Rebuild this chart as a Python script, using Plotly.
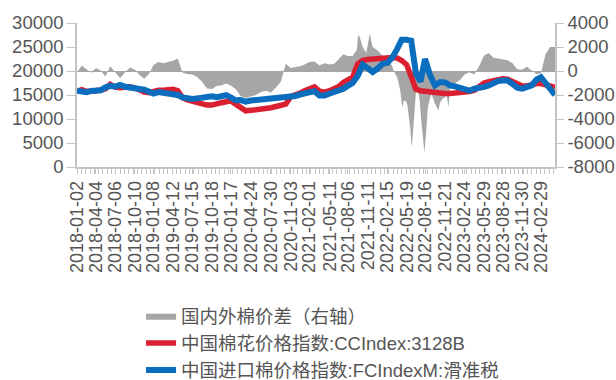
import plotly.graph_objects as go

# Shared observation dates for the two price indices
dates = [
    "2018-01-02", "2018-01-25", "2018-02-17", "2018-03-12",
    "2018-04-04", "2018-04-27", "2018-05-20", "2018-06-12",
    "2018-07-06", "2018-07-30", "2018-08-23", "2018-09-16",
    "2018-10-10", "2018-11-02", "2018-11-24", "2018-12-17",
    "2019-01-08", "2019-01-31", "2019-02-24", "2019-03-19",
    "2019-04-12", "2019-05-05", "2019-05-29", "2019-06-21",
    "2019-07-15", "2019-08-07", "2019-08-31", "2019-09-24",
    "2019-10-18", "2019-11-10", "2019-12-03", "2019-12-26",
    "2020-01-17", "2020-02-10", "2020-03-06", "2020-03-30",
    "2020-04-24", "2020-05-18", "2020-06-12", "2020-07-06",
    "2020-07-30", "2020-08-23", "2020-09-16", "2020-10-10",
    "2020-11-03", "2020-11-25", "2020-12-18", "2021-01-09",
    "2021-02-01", "2021-02-26", "2021-03-22", "2021-04-16",
    "2021-05-11", "2021-06-02", "2021-06-24", "2021-07-16",
    "2021-08-06", "2021-08-30", "2021-09-24", "2021-10-18",
    "2021-11-11", "2021-12-05", "2021-12-29", "2022-01-22",
    "2022-02-15", "2022-03-10", "2022-04-02", "2022-04-25",
    "2022-05-19", "2022-06-10", "2022-07-03", "2022-07-25",
    "2022-08-16", "2022-09-09", "2022-10-03", "2022-10-28",
    "2022-11-21", "2022-12-15", "2023-01-08", "2023-02-01",
    "2023-02-24", "2023-03-19", "2023-04-12", "2023-05-05",
    "2023-05-29", "2023-06-21", "2023-07-14", "2023-08-05",
    "2023-08-28", "2023-09-20", "2023-10-14", "2023-11-06",
    "2023-11-30", "2023-12-23", "2024-01-15", "2024-02-07",
    "2024-02-29", "2024-03-22", "2024-04-14", "2024-05-07",
]

# 中国棉花价格指数 CCIndex:3128B (yuan/ton)
cc_index = [
    15750, 16100, 15750, 15700, 15900, 16050, 16300, 17200,
    16650, 16500, 16600, 16700, 16500, 15950, 15600, 15500,
    15800, 16000, 16000, 16100, 16200, 15900, 14400, 14000,
    13700, 13300, 13100, 12900, 12900, 13300, 13400, 13600,
    13800, 13100, 12400, 11700, 11800, 11900, 12100, 12200,
    12350, 12600, 12800, 13100, 14700, 14900, 15400, 15900,
    16400, 16700, 15800, 15600, 15900, 16200, 16800, 17600,
    18100, 18700, 21500, 22200, 22400, 22500, 22600, 22700,
    22700, 22800, 22700, 22200, 21300, 19000, 16200, 15900,
    15750, 15700, 15400, 15350, 15300, 15300, 15400, 15400,
    15500, 15700, 16000, 16700, 17500, 17800, 18100, 18300,
    18400, 18300, 17900, 17300, 16900, 16900, 17300, 17400,
    17400, 17200, 16900, 16600,
]

# 中国进口棉价格指数 FCIndexM (sliding-scale duty, yuan/ton)
fc_index = [
    15900, 15700, 15600, 15850, 15800, 16000, 16600, 16900,
    16750, 17100, 16700, 16450, 16400, 16250, 16100, 15800,
    15300, 15600, 15450, 15600, 15400, 15000, 14500, 14300,
    14150, 14300, 14500, 14700, 14750, 14550, 14650, 14950,
    14500, 13900, 13950, 13600, 13850, 13950, 13950, 14000,
    14100, 14200, 14300, 14500, 14650, 14800, 15100, 15300,
    15700, 15800, 14900, 14900, 15300, 15600, 15800, 16300,
    16900, 17500, 19000, 21300, 20600, 19800, 20500, 21500,
    21700, 22800, 24500, 26500, 26500, 26300, 19500, 17800,
    22500, 19200, 17000, 17700, 17600, 17000, 16800, 16400,
    16000, 15900, 16300, 16400, 16700, 17000, 17600, 17900,
    18000, 18000, 17300, 16500, 16300, 16500, 17000, 18200,
    18700, 17500, 16200, 15000,
]

# 国内外棉价差 (right axis, yuan/ton)
spread_dates = [
    "2018-01-02", "2018-01-25", "2018-02-17", "2018-03-12",
    "2018-04-04", "2018-04-27", "2018-05-20", "2018-06-12",
    "2018-07-06", "2018-07-30", "2018-08-23", "2018-09-16",
    "2018-10-10", "2018-11-02", "2018-11-24", "2018-12-17",
    "2019-01-08", "2019-01-31", "2019-02-24", "2019-03-19",
    "2019-04-12", "2019-05-05", "2019-05-29", "2019-06-21",
    "2019-07-15", "2019-08-07", "2019-08-31", "2019-09-24",
    "2019-10-18", "2019-11-10", "2019-12-03", "2019-12-26",
    "2020-01-17", "2020-02-10", "2020-03-06", "2020-03-30",
    "2020-04-24", "2020-05-18", "2020-06-12", "2020-07-06",
    "2020-07-30", "2020-08-23", "2020-09-16", "2020-10-10",
    "2020-11-03", "2020-11-25", "2020-12-18", "2021-01-09",
    "2021-02-01", "2021-02-26", "2021-03-22", "2021-04-16",
    "2021-05-11", "2021-06-02", "2021-06-24", "2021-07-16",
    "2021-08-06", "2021-08-30", "2021-09-20", "2021-09-24",
    "2021-09-30", "2021-10-18", "2021-11-04", "2021-11-11",
    "2021-11-21", "2021-12-05", "2021-12-29", "2022-01-22",
    "2022-02-15", "2022-03-10", "2022-03-17", "2022-04-02",
    "2022-04-11", "2022-04-19", "2022-04-27", "2022-05-05",
    "2022-05-13", "2022-05-22", "2022-05-29", "2022-06-05",
    "2022-06-13", "2022-06-21", "2022-06-28", "2022-07-06",
    "2022-07-13", "2022-07-21", "2022-07-28", "2022-08-04",
    "2022-08-10", "2022-08-13", "2022-08-21", "2022-08-30",
    "2022-09-09", "2022-09-16", "2022-10-03", "2022-10-20",
    "2022-10-28", "2022-11-10", "2022-11-21", "2022-11-28",
    "2022-12-08", "2022-12-15", "2023-01-08", "2023-02-01",
    "2023-02-24", "2023-03-19", "2023-04-12", "2023-05-05",
    "2023-05-29", "2023-06-21", "2023-07-14", "2023-08-05",
    "2023-08-28", "2023-09-20", "2023-10-14", "2023-11-06",
    "2023-11-30", "2023-12-23", "2024-01-15", "2024-02-07",
    "2024-02-29", "2024-03-22", "2024-04-14", "2024-05-07",
]
spread = [
    -150, 450, 150, -150, 250, 50, -450, 400,
    -100, -600, -100, 300, 100, -350, -650, -250,
    500, 750, 650, 750, 850, 1050, -150, -250,
    -300, -500, -900, -1450, -1500, -1250, -1200, -1050,
    -1200, -1500, -2100, -2250, -2100, -2000, -1750, -1650,
    -1800, -1400, -900, 600, 250, 300, 400, 550,
    750, 800, 450, 650, 550, 600, 1000, 1400,
    1250, 1250, 1800, 2800, 3000, 2000, 1500, 2300,
    3100, 2000, 1700, 1300, 1000, 400, 0, -500,
    -1050, -1800, -3000, -2500, -2450, -2800, -3600, -4700,
    -6400, -4700, -3000, -1050, -1600, -2450, -4000, -5000,
    -6000, -6800, -5200, -3000, -2300, -1900, -2700, -3300,
    -2600, -2300, -2200, -2000, -3000, -1500, -1050, -750,
    -300, -100, -300, 400, 1300, 1500, 1100, 1050,
    1000, 900, 650, 150, 100, 350, 50, -250,
    -200, 1400, 2000, 2000,
]

# Category labels shown along the date axis
tick_dates = [
    "2018-01-02", "2018-04-04", "2018-07-06", "2018-10-10", "2019-01-08",
    "2019-04-12", "2019-07-15", "2019-10-18", "2020-01-17", "2020-04-24",
    "2020-07-30", "2020-11-03", "2021-02-01", "2021-05-11", "2021-08-06",
    "2021-11-11", "2022-02-15", "2022-05-19", "2022-08-16", "2022-11-21",
    "2023-02-24", "2023-05-29", "2023-08-28", "2023-11-30", "2024-02-29",
]
left_ticks = [0, 5000, 10000, 15000, 20000, 25000, 30000]
left_labels = ["0", "5000", "10000", "15000", "20000", "25000", "30000"]
right_ticks = [-8000, -6000, -4000, -2000, 0, 2000, 4000]
right_labels = ["-8000", "-6000", "-4000", "-2000", "0", "2000", "4000"]

GREY = "#A6A6A6"
RED = "#DA1F30"
BLUE = "#0A6DBD"
AXIS = "#C4C4C4"
TEXT = "#555555"
FONT = "Liberation Sans, Arial, Noto Sans CJK SC, sans-serif"

fig = go.Figure()

# Spread area sits on the base axis so the price lines draw over it
fig.add_trace(go.Scatter(
    x=spread_dates, y=spread, yaxis="y", mode="lines",
    fill="tozeroy", fillcolor=GREY, line=dict(width=0, color=GREY),
    name="国内外棉价差（右轴）", legendgroup="a",
))
fig.add_trace(go.Scatter(
    x=dates, y=cc_index, yaxis="y2", mode="lines",
    line=dict(color=RED, width=5.5),
    name="中国棉花价格指数:CCIndex:3128B", legendgroup="b",
))
fig.add_trace(go.Scatter(
    x=dates, y=fc_index, yaxis="y2", mode="lines",
    line=dict(color=BLUE, width=6),
    name="中国进口棉价格指数:FCIndexM:滑准税", legendgroup="c",
))

fig.update_layout(
    width=616, height=380,
    margin=dict(l=77, r=61, t=23, b=213, autoexpand=False),
    paper_bgcolor="white", plot_bgcolor="white",
    font=dict(family=FONT, color=TEXT, size=18),
    showlegend=True,
    legend=dict(
        x=0.134, xanchor="left", y=-0.905, yanchor="top",
        font=dict(size=18.5, color=TEXT, family=FONT),
        bgcolor="rgba(0,0,0,0)", tracegroupgap=0,
    ),
    xaxis=dict(
        type="date", range=["2018-01-02", "2024-05-07"],
        tickmode="array", tickvals=tick_dates, ticktext=tick_dates,
        tickangle=-90, tickfont=dict(size=18),
        showline=True, linecolor=AXIS, linewidth=1.5,
        ticks="outside", ticklen=5, tickcolor=AXIS,
        minor=dict(ticks="outside", ticklen=5, tickcolor=AXIS,
                   dtick=21 * 86400000, tick0="2018-01-02"),
        showgrid=False, zeroline=False,
    ),
    yaxis=dict(
        side="right", range=[-8000, 4000],
        tickmode="array", tickvals=right_ticks, ticktext=right_labels,
        tickfont=dict(size=18.5),
        showline=True, linecolor=AXIS, linewidth=1.5,
        ticks="outside", ticklen=7, tickcolor=AXIS,
        showgrid=False, zeroline=True, zerolinecolor=GREY, zerolinewidth=1,
    ),
    yaxis2=dict(
        side="left", overlaying="y", range=[0, 30000],
        tickmode="array", tickvals=left_ticks, ticktext=left_labels,
        tickfont=dict(size=18.5),
        showline=True, linecolor=AXIS, linewidth=1.5,
        ticks="outside", ticklen=8, tickcolor=AXIS,
        showgrid=False, zeroline=False,
    ),
)

fig.write_html("out.html")
